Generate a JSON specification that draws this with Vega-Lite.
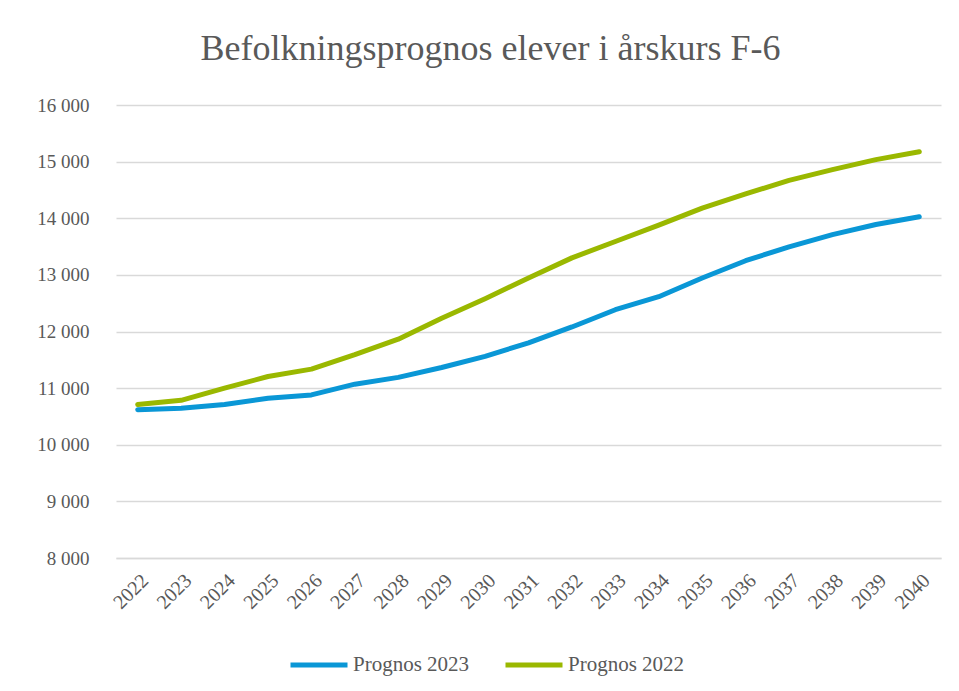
{
  "$schema": "https://vega.github.io/schema/vega-lite/v6.json",
  "width": 825,
  "height": 453,
  "autosize": {"type": "none"},
  "padding": {"left": 116, "top": 105, "right": 18, "bottom": 133},
  "background": "white",
  "title": {
    "text": "Befolkningsprognos elever i årskurs F-6",
    "font": "Liberation Serif",
    "fontSize": 36,
    "fontWeight": "normal",
    "color": "#595959",
    "anchor": "middle",
    "dx": -38,
    "offset": 28
  },
  "config": {
    "view": {"stroke": null}
  },
  "data": {
    "values": [
      {"year": "2022", "serie": "Prognos 2023", "v": 10620},
      {"year": "2023", "serie": "Prognos 2023", "v": 10645},
      {"year": "2024", "serie": "Prognos 2023", "v": 10710},
      {"year": "2025", "serie": "Prognos 2023", "v": 10820},
      {"year": "2026", "serie": "Prognos 2023", "v": 10880},
      {"year": "2027", "serie": "Prognos 2023", "v": 11070},
      {"year": "2028", "serie": "Prognos 2023", "v": 11190},
      {"year": "2029", "serie": "Prognos 2023", "v": 11365},
      {"year": "2030", "serie": "Prognos 2023", "v": 11560},
      {"year": "2031", "serie": "Prognos 2023", "v": 11800},
      {"year": "2032", "serie": "Prognos 2023", "v": 12080},
      {"year": "2033", "serie": "Prognos 2023", "v": 12385},
      {"year": "2034", "serie": "Prognos 2023", "v": 12615},
      {"year": "2035", "serie": "Prognos 2023", "v": 12945},
      {"year": "2036", "serie": "Prognos 2023", "v": 13250},
      {"year": "2037", "serie": "Prognos 2023", "v": 13495},
      {"year": "2038", "serie": "Prognos 2023", "v": 13710},
      {"year": "2039", "serie": "Prognos 2023", "v": 13890},
      {"year": "2040", "serie": "Prognos 2023", "v": 14025},
      {"year": "2022", "serie": "Prognos 2022", "v": 10710},
      {"year": "2023", "serie": "Prognos 2022", "v": 10785},
      {"year": "2024", "serie": "Prognos 2022", "v": 11000},
      {"year": "2025", "serie": "Prognos 2022", "v": 11205},
      {"year": "2026", "serie": "Prognos 2022", "v": 11335},
      {"year": "2027", "serie": "Prognos 2022", "v": 11590},
      {"year": "2028", "serie": "Prognos 2022", "v": 11865},
      {"year": "2029", "serie": "Prognos 2022", "v": 12235},
      {"year": "2030", "serie": "Prognos 2022", "v": 12580},
      {"year": "2031", "serie": "Prognos 2022", "v": 12945},
      {"year": "2032", "serie": "Prognos 2022", "v": 13300},
      {"year": "2033", "serie": "Prognos 2022", "v": 13590},
      {"year": "2034", "serie": "Prognos 2022", "v": 13880},
      {"year": "2035", "serie": "Prognos 2022", "v": 14180},
      {"year": "2036", "serie": "Prognos 2022", "v": 14430},
      {"year": "2037", "serie": "Prognos 2022", "v": 14670},
      {"year": "2038", "serie": "Prognos 2022", "v": 14860},
      {"year": "2039", "serie": "Prognos 2022", "v": 15035},
      {"year": "2040", "serie": "Prognos 2022", "v": 15175}
    ]
  },
  "mark": {"type": "line", "strokeWidth": 5, "strokeCap": "round", "strokeJoin": "round"},
  "encoding": {
    "x": {
      "field": "year",
      "type": "ordinal",
      "scale": {"type": "point", "padding": 0.5},
      "axis": {
        "title": null,
        "labelAngle": -45,
        "labelPadding": 12,
        "labelFont": "Liberation Serif",
        "labelFontSize": 20,
        "labelColor": "#595959",
        "ticks": false,
        "domain": true,
        "domainColor": "#D9D9D9",
        "domainWidth": 1.5,
        "grid": false
      }
    },
    "y": {
      "field": "v",
      "type": "quantitative",
      "scale": {"domain": [8000, 16000], "nice": false, "zero": false},
      "axis": {
        "title": null,
        "values": [8000, 9000, 10000, 11000, 12000, 13000, 14000, 15000, 16000],
        "labelExpr": "replace(format(datum.value, ','), ',', ' ')",
        "labelFont": "Liberation Serif",
        "labelFontSize": 19,
        "labelColor": "#595959",
        "labelPadding": 27,
        "ticks": false,
        "domain": false,
        "grid": true,
        "gridColor": "#D9D9D9",
        "gridWidth": 1.5
      }
    },
    "color": {
      "field": "serie",
      "type": "nominal",
      "scale": {"domain": ["Prognos 2023", "Prognos 2022"], "range": ["#0A97D6", "#9AB800"]},
      "legend": {
        "title": null,
        "orient": "none",
        "direction": "horizontal",
        "legendX": 172,
        "legendY": 529,
        "symbolType": "stroke",
        "symbolSize": 3249,
        "symbolStrokeWidth": 5,
        "labelFont": "Liberation Serif",
        "labelFontSize": 21,
        "labelColor": "#595959",
        "labelOffset": 3,
        "columnPadding": 25
      }
    }
  }
}
